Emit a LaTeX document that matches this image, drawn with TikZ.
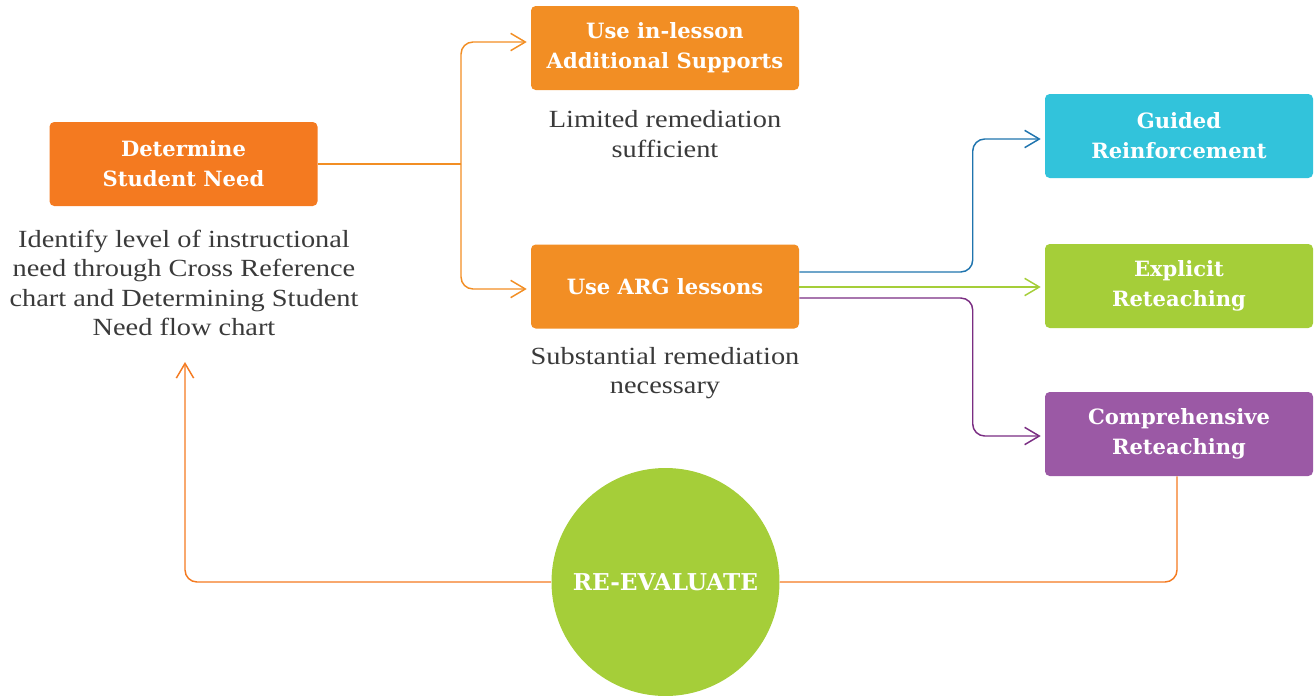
\documentclass[tikz,border=0pt]{standalone}
\usepackage{fontspec}
\setmainfont{Liberation Serif}
\newfontfamily\descfont[FakeStretch=1.15]{Liberation Serif}
\newfontfamily\labfont{DejaVu Serif}
\usetikzlibrary{arrows.meta,calc}
\definecolor{orA}{HTML}{F47A20}
\definecolor{orB}{HTML}{F28E24}
\definecolor{cyanbox}{HTML}{32C3DB}
\definecolor{greenbox}{HTML}{A5CE39}
\definecolor{purplebox}{HTML}{9B59A5}
\definecolor{blueline}{HTML}{1F74AE}
\definecolor{purpleline}{HTML}{7A2D82}
\definecolor{textgray}{HTML}{3A3A3A}
\tikzset{
  box/.style={rectangle, rounded corners=3.5pt, minimum width=201pt, minimum height=63pt,
    text=white, align=center, inner sep=0pt,
    font=\labfont\bfseries\fontsize{15.8}{22.5}\selectfont},
  desc/.style={align=center, text=textgray, inner sep=0pt,
    font=\descfont\fontsize{18.5}{22}\selectfont},
  tip/.style={-{Straight Barb[length=11pt,width=13pt,line width=1.1pt]}},
  conn/.style={line width=1.1pt, rounded corners=9pt},
}
\begin{document}
\begin{tikzpicture}[x=0.75pt,y=-0.75pt]
\useasboundingbox (0,0) rectangle (1315,696);

% boxes
\node[box, fill=orA] (det) at (183.5,164) {Determine\\Student Need};
\node[box, fill=orB] (inl) at (665,48) {Use in-lesson\\Additional Supports};
\node[box, fill=orB] (arg) at (665,286.5) {Use ARG lessons};
\node[box, fill=cyanbox] (gui) at (1179,136) {Guided\\Reinforcement};
\node[box, fill=greenbox] (exp) at (1179,286) {Explicit\\Reteaching};
\node[box, fill=purplebox] (com) at (1179,434) {Comprehensive\\Reteaching};

% circle
\node[circle, fill=greenbox, minimum size=171pt, inner sep=0pt, text=white,
  font=\labfont\bfseries\fontsize{17.4}{20}\selectfont] (re) at (665.5,582) {RE-EVALUATE};

% descriptions
\node[desc] (ident) at (184,283) {Identify level of instructional\\need through Cross Reference\\chart and Determining Student\\Need flow chart};
\node[desc] (lim) at (665,134) {Limited remediation\\sufficient};
\node[desc] (sub) at (665,373) {Substantial remediation\\necessary};

% connectors from determine
\coordinate (j) at (461,164);
\draw[conn, orB] (det.east) -- (j);
\draw[conn, orB, tip] (j) |- ($(inl.west)+(-4,-6)$);
\draw[conn, orB, tip] (j) |- ($(arg.west)+(-4,2.5)$);

% from ARG
\draw[conn, blueline, tip] ($(arg.east)+(0,-14.5)$) -| ($(gui.west)+(-72,3)$) -- ($(gui.west)+(-4,3)$);
\draw[conn, greenbox, tip] ($(arg.east)+(0,0.5)$) -- ($(exp.west)+(-4,1)$);
\draw[conn, purpleline, tip] ($(arg.east)+(0,11.5)$) -| ($(com.west)+(-72,2)$) -- ($(com.west)+(-4,2)$);

% return loop
\coordinate (up) at (185,362);
\draw[conn, orA] ($(com.south)+(-2,0)$) |- (re.east);
\draw[conn, orA, tip] (re.west) -| (up);
\end{tikzpicture}
\end{document}
